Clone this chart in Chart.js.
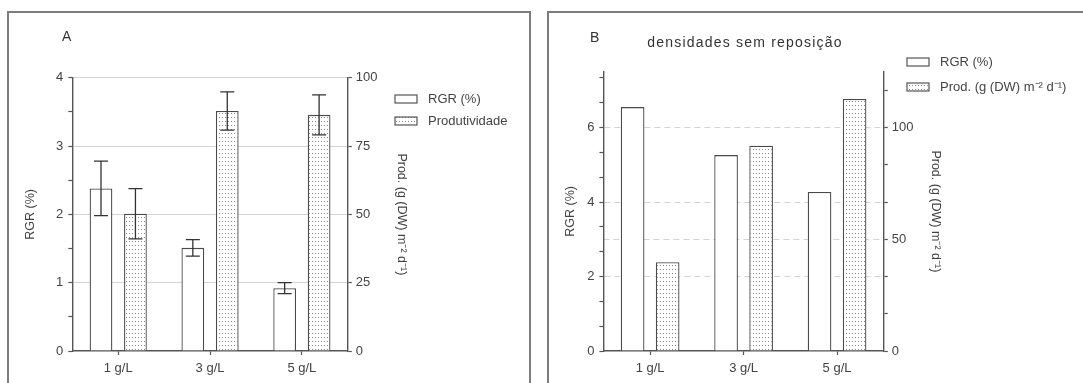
<!DOCTYPE html>
<html>
<head>
<meta charset="utf-8">
<script src="https://cdn.jsdelivr.net/npm/chart.js@4.4.1/dist/chart.umd.min.js"></script>
<style>
  body { margin: 0; width: 1083px; height: 383px; overflow: hidden; position: relative; background: #fff; }
  .panel { position: absolute; top: 11px; height: 400px; box-sizing: border-box; border: 2px solid #7c7c7c; border-bottom: none; }
  #panelA { left: 7px; width: 524px; }
  #panelB { left: 547px; width: 600px; }
  canvas { position: absolute; top: 12px; }
  #chartA { left: 8px; }
  #chartB { left: 548px; }
</style>
</head>
<body>
<div class="panel" id="panelA"></div>
<div class="panel" id="panelB"></div>
<canvas id="chartA" width="521" height="371"></canvas>
<canvas id="chartB" width="535" height="371"></canvas>
<script>
// Categorias (densidade inicial)
const categories = ['1 g/L', '3 g/L', '5 g/L'];

// Painel A - com reposição (média ± desvio)
const rgrA = [2.38, 1.51, 0.92];
const rgrErrA = [0.40, 0.12, 0.08];
const prodA = [50.2, 87.8, 86.4];
const prodErrA = [9.2, 7.0, 7.3];

// Painel B - densidades sem reposição
const rgrB = [6.55, 5.26, 4.27];
const prodB = [39.7, 91.9, 112.8];

// Marcas dos eixos (rótulos principais)
const leftTicksA = [0, 1, 2, 3, 4];
const rightTicksA = [0, 25, 50, 75, 100];
const leftTicksB = [0, 2, 4, 6];
const rightTicksB = [0, 50, 100];

const FONT = "'Liberation Sans', Arial, sans-serif";
const AXIS = '#555';
Chart.defaults.font.family = FONT;
Chart.defaults.font.size = 13;
Chart.defaults.color = '#444';

// textura pontilhada das barras de produtividade
function dotPattern(ctx) {
  const c = document.createElement('canvas');
  c.width = 3; c.height = 4;
  const g = c.getContext('2d');
  g.fillStyle = '#fff'; g.fillRect(0, 0, 3, 4);
  g.fillStyle = '#8c8c8c'; g.fillRect(1, 1, 1, 1);
  return ctx.createPattern(c, 'repeat');
}

// marcas principais + secundárias
function axisTicks(majors, step, max) {
  const out = [];
  for (let i = 0; i * step <= max + 1e-9; i++) {
    const v = +(i * step).toFixed(6);
    out.push({ value: v, major: majors.some(m => Math.abs(m - v) < 1e-6) });
  }
  return out;
}

const errorBars = {
  id: 'errorBars',
  afterDatasetsDraw(chart) {
    const ctx = chart.ctx;
    chart.data.datasets.forEach((ds, i) => {
      if (!ds.errors) return;
      const scale = chart.scales[ds.yAxisID];
      chart.getDatasetMeta(i).data.forEach((bar, j) => {
        const top = scale.getPixelForValue(ds.data[j] + ds.errors[j]);
        const bot = scale.getPixelForValue(ds.data[j] - ds.errors[j]);
        ctx.save();
        ctx.strokeStyle = '#333';
        ctx.lineWidth = 1.3;
        ctx.beginPath();
        ctx.moveTo(bar.x, top); ctx.lineTo(bar.x, bot);
        ctx.moveTo(bar.x - 7, top); ctx.lineTo(bar.x + 7, top);
        ctx.moveTo(bar.x - 7, bot); ctx.lineTo(bar.x + 7, bot);
        ctx.stroke();
        ctx.restore();
      });
    });
  }
};

// letra do painel, título e legenda
const panelText = {
  id: 'panelText',
  afterDraw(chart, args, o) {
    const ctx = chart.ctx;
    ctx.save();
    ctx.textBaseline = 'middle';
    ctx.fillStyle = '#333';
    ctx.font = '14px ' + FONT;
    ctx.fillText(o.letter, o.letterX, o.letterY);
    if (o.title) {
      ctx.textAlign = 'center';
      ctx.font = '14px ' + FONT;
      ctx.letterSpacing = '1.2px';
      ctx.fillText(o.title, o.titleX, o.titleY);
      ctx.letterSpacing = '0px';
    }
    ctx.textAlign = 'left';
    ctx.font = '13px ' + FONT;
    chart.data.datasets.forEach((ds, i) => {
      const y = o.legendY + i * o.legendGap;
      ctx.fillStyle = ds.backgroundColor;
      ctx.fillRect(o.legendX, y - 4, 22, 8);
      ctx.strokeStyle = AXIS;
      ctx.lineWidth = 1.2;
      ctx.strokeRect(o.legendX, y - 4, 22, 8);
      ctx.fillStyle = '#444';
      ctx.fillText(ds.label, o.legendX + 33, y);
    });
    ctx.restore();
  }
};

function yAxis(pos, majors, step, max, width, title, gridColor, dash) {
  return {
    position: pos,
    min: 0,
    max: max,
    afterBuildTicks: s => { s.ticks = axisTicks(majors, step, max); },
    afterFit: s => { s.width = width; },
    ticks: {
      autoSkip: false,
      padding: pos === 'left' ? 5 : 4,
      callback: (v, i, t) => (t[i].major ? v : '')
    },
    grid: {
      tickLength: 4,
      tickColor: AXIS,
      tickWidth: 1.2,
      lineWidth: 1,
      color: gridColor
    },
    border: { color: AXIS, width: 1.4, dash: dash },
    title: { display: true, text: title, padding: 0, font: { size: 12.5 }, color: '#444' }
  };
}

function xAxis() {
  return {
    afterFit: s => { s.height = 32; },
    ticks: { padding: 6 },
    grid: { offset: false, drawOnChartArea: false, tickLength: 4, tickColor: AXIS, tickWidth: 1.2 },
    border: { color: AXIS, width: 1.4 }
  };
}

const majorGrid = c => (c.tick && c.tick.major && c.tick.value > 0 ? '#d4d4d4' : 'transparent');

// Painel A
const ctxA = document.getElementById('chartA').getContext('2d');
new Chart(ctxA, {
  type: 'bar',
  data: {
    labels: categories,
    datasets: [
      { label: 'RGR (%)', data: rgrA, errors: rgrErrA, yAxisID: 'y',
        backgroundColor: '#fff', borderColor: '#4a4a4a', borderWidth: 1.3 },
      { label: 'Produtividade', data: prodA, errors: prodErrA, yAxisID: 'y1',
        backgroundColor: dotPattern(ctxA), borderColor: '#4a4a4a', borderWidth: 1.3 }
    ]
  },
  options: {
    responsive: false,
    animation: false,
    layout: { padding: { left: 15.2, right: 120.2, top: 65.7, bottom: 0 } },
    datasets: { bar: { categoryPercentage: 0.75, barPercentage: 0.66 } },
    scales: {
      x: xAxis(),
      y: yAxis('left', leftTicksA, 0.5, 4, 49.1, 'RGR (%)', majorGrid, []),
      y1: yAxis('right', rightTicksA, 25, 100, 61, 'Prod. (g (DW) m\u207B\u00B2 d\u207B\u00B9)', 'transparent', [])
    },
    plugins: {
      legend: { display: false },
      tooltip: { enabled: false },
      panelText: { letter: 'A', letterX: 54, letterY: 25, legendX: 387, legendY: 87, legendGap: 22 }
    }
  },
  plugins: [errorBars, panelText]
});

// Painel B
const ctxB = document.getElementById('chartB').getContext('2d');
new Chart(ctxB, {
  type: 'bar',
  data: {
    labels: categories,
    datasets: [
      { label: 'RGR (%)', data: rgrB, yAxisID: 'y',
        backgroundColor: '#fff', borderColor: '#4a4a4a', borderWidth: 1.3 },
      { label: 'Prod. (g (DW) m\u207B\u00B2 d\u207B\u00B9)', data: prodB, yAxisID: 'y1',
        backgroundColor: dotPattern(ctxB), borderColor: '#4a4a4a', borderWidth: 1.3 }
    ]
  },
  options: {
    responsive: false,
    animation: false,
    layout: { padding: { left: 15.2, right: 140.2, top: 59.7, bottom: 0 } },
    datasets: { bar: { categoryPercentage: 0.75, barPercentage: 0.675 } },
    scales: {
      x: xAxis(),
      y: yAxis('left', leftTicksB, 2 / 3, 7.5, 40.2, 'RGR (%)', majorGrid, [6, 4]),
      y1: yAxis('right', rightTicksB, 100 / 6, 125, 59, 'Prod. (g (DW) m\u207B\u00B2 d\u207B\u00B9)',
        c => (c.tick && c.tick.value === 50 ? '#d4d4d4' : 'transparent'), [6, 4])
    },
    plugins: {
      legend: { display: false },
      tooltip: { enabled: false },
      panelText: { letter: 'B', letterX: 42, letterY: 26, title: 'densidades sem reposição',
        titleX: 197, titleY: 31, legendX: 359, legendY: 50, legendGap: 25 }
    }
  },
  plugins: [errorBars, panelText]
});
</script>
</body>
</html>
